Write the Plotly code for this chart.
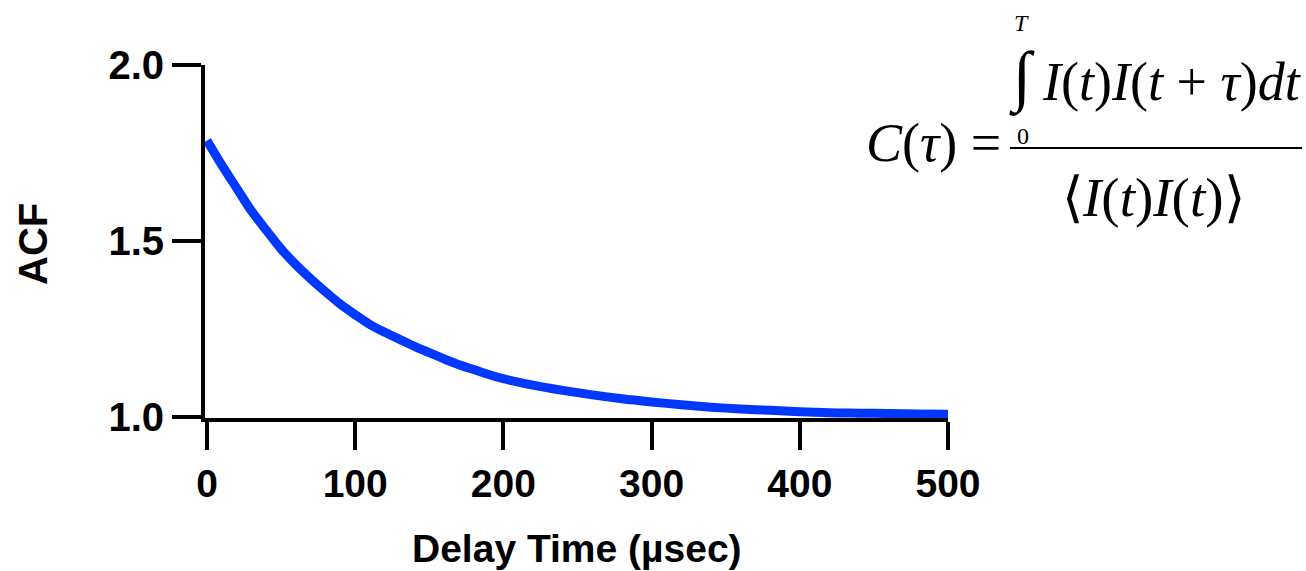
import plotly.graph_objects as go

# Data
delay_time = [0, 10, 20, 30, 40, 50, 60, 70, 80, 90, 100, 110, 120, 130, 140, 150,
              160, 170, 180, 190, 200, 220, 240, 260, 280, 300, 320, 340, 360, 380,
              400, 420, 440, 460, 480, 500]
acf = [1.785, 1.715, 1.65, 1.585, 1.53, 1.477, 1.432, 1.392, 1.355, 1.32, 1.29, 1.262,
       1.24, 1.22, 1.2, 1.182, 1.164, 1.148, 1.134, 1.12, 1.108, 1.09, 1.075,
       1.062, 1.051, 1.042, 1.034, 1.027, 1.022, 1.018, 1.014, 1.011, 1.010, 1.009,
       1.008, 1.007]
x_ticks = [0, 100, 200, 300, 400, 500]
y_ticks = [1.0, 1.5, 2.0]
y_tick_labels = ["1.0", "1.5", "2.0"]

W, H = 1306, 571
L, R, T, B = 205, 358, 65, 153
PW, PH = W - L - R, H - T - B


def px(x):
    return (x - L) / PW


def py(y):
    return (H - B - y) / PH


SANS = "Liberation Sans, Arial, Helvetica, sans-serif"
SERIF = "Liberation Serif, Times New Roman, serif"

fig = go.Figure()
fig.add_trace(go.Scatter(x=delay_time, y=acf, mode="lines",
                         line=dict(color="#0038FF", width=9, shape="spline", smoothing=0.8),
                         showlegend=False))

fig.update_layout(
    width=W, height=H,
    margin=dict(l=L, r=R, t=T, b=B, pad=0),
    paper_bgcolor="white", plot_bgcolor="white",
    xaxis=dict(range=[-1.35, 500], tickvals=x_ticks, ticks="outside", ticklen=28,
               tickwidth=4, tickcolor="black", showline=True, linewidth=4,
               linecolor="black", showgrid=False, zeroline=False,
               tickfont=dict(family=SANS, size=39, color="black", weight="bold")),
    yaxis=dict(range=[0.9963, 2.0], tickvals=y_ticks, ticktext=y_tick_labels,
               ticks="outside", ticklen=29, tickwidth=4, tickcolor="black",
               showline=True, linewidth=4, linecolor="black", showgrid=False,
               zeroline=False,
               tickfont=dict(family=SANS, size=40, color="black", weight="bold")),
)


def note(text, x, y, size, family=SERIF, xanchor="center", **kw):
    return dict(text=text, x=px(x), y=py(y), xref="paper", yref="paper",
                showarrow=False, xanchor=xanchor, yanchor="middle",
                font=dict(family=family, size=size, color="black", **kw))


ann = [
    note("Delay Time (µsec)", 577, 548, 39, family=SANS, weight="bold"),
    dict(note("ACF", 33, 244, 40, family=SANS, weight="bold"), textangle=-90),
    # equation
    note("<i>C</i>(<i>τ</i>) =", 864, 143, 54, xanchor="left"),
    note("∫", 1022, 77, 67, weight="bold"),
    note("<i>T</i>", 1022, 23, 24),
    note("0", 1023, 136, 24),
    note("<i>I</i>(<i>t</i>)<i>I</i>(<i>t</i> + <i>τ</i>)<i>dt</i>", 1040, 82, 54,
         xanchor="left"),
    note("⟨<i>I</i>(<i>t</i>)<i>I</i>(<i>t</i>)⟩", 1153, 197, 55),
]
fig.update_layout(annotations=ann)

fig.add_shape(type="line", xref="paper", yref="paper", x0=px(1010), x1=px(1302),
              y0=py(148), y1=py(148), line=dict(color="black", width=2))

fig.write_html("out.html")
